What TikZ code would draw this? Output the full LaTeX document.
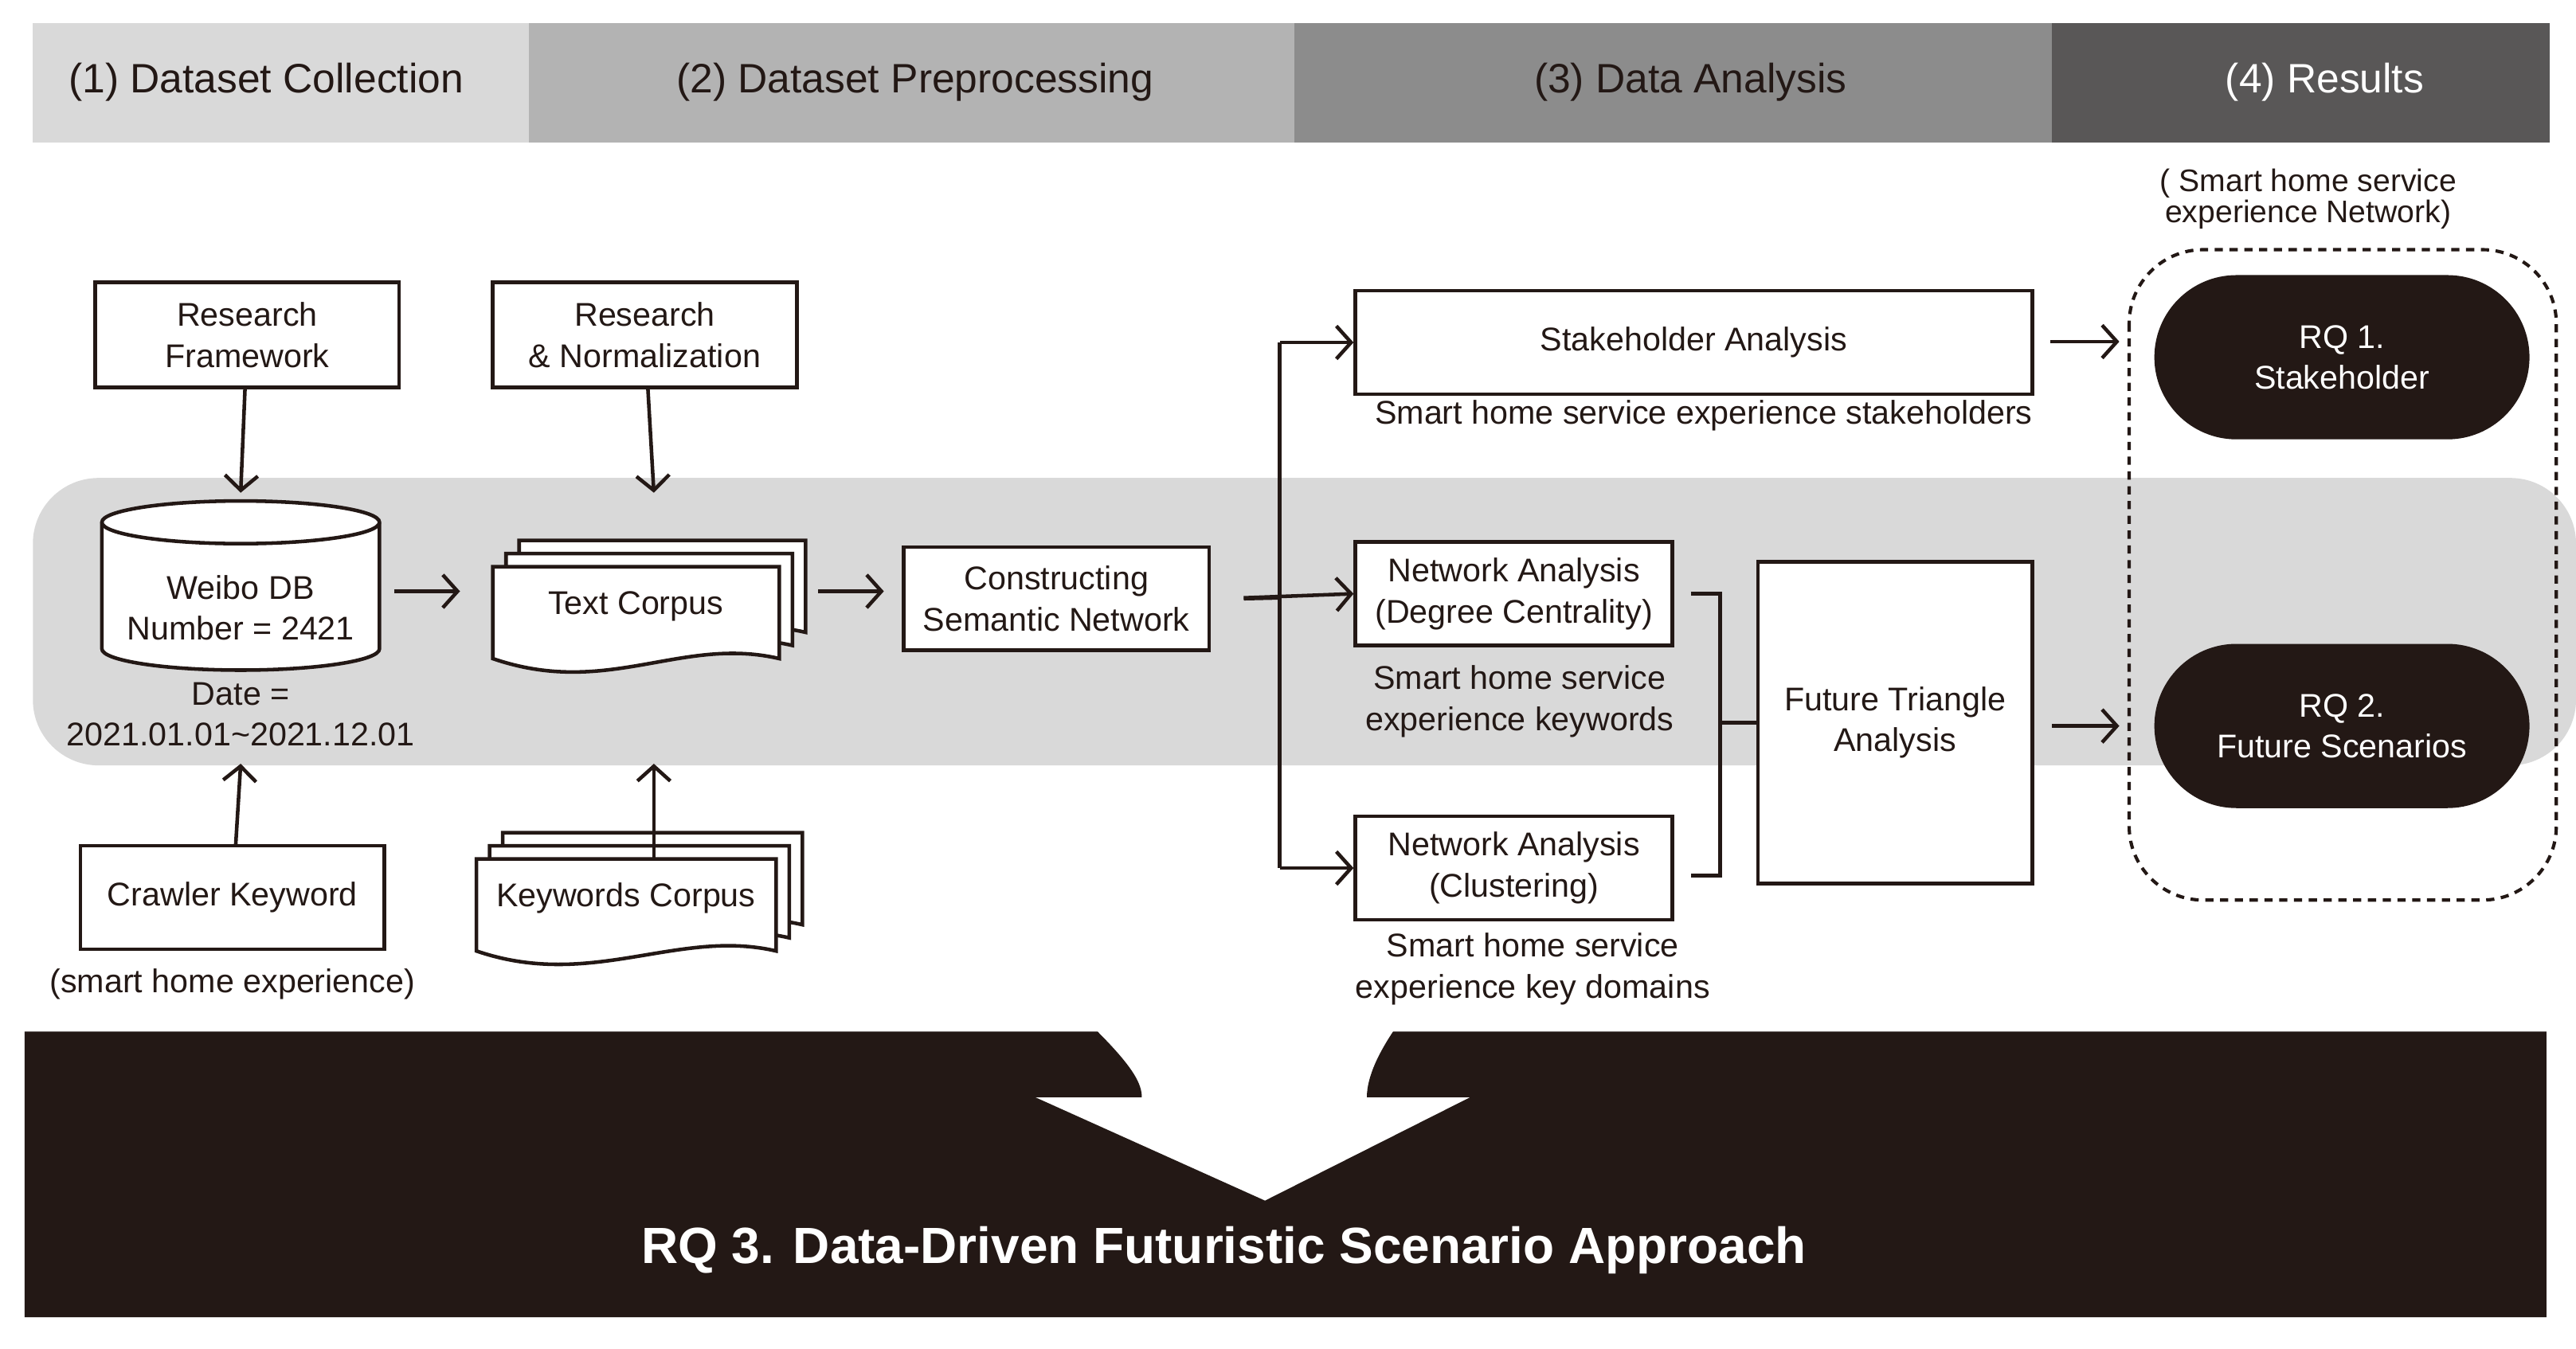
\documentclass[tikz,border=0pt]{standalone}
\usepackage{fontspec}
\setmainfont{Liberation Sans}
\usetikzlibrary{positioning, shapes, arrows.meta}
\definecolor{inkblack}{HTML}{231815}
\definecolor{barone}{HTML}{D9D9D9}
\definecolor{bartwo}{HTML}{B3B3B3}
\definecolor{barthree}{HTML}{8C8C8C}
\definecolor{barfour}{HTML}{595757}
\definecolor{bandgray}{HTML}{D9D9D9}
% stacked document shape around a named node
\newcommand{\docstack}[1]{%
  \foreach \d in {16,8,0}{
    \draw[inkblack, line width=2.2pt, fill=white]
      ([xshift=\d pt, yshift=\d pt]#1.north west) -- ([xshift=\d pt, yshift=\d pt]#1.north east)
      -- ([xshift=\d pt, yshift=\d pt-56pt]#1.north east)
      .. controls ([xshift=\d pt-60pt, yshift=\d pt-42pt]#1.north east) and ([xshift=\d pt+70pt, yshift=\d pt-80pt]#1.north west) ..
      ([xshift=\d pt, yshift=\d pt-56pt]#1.north west) -- cycle;
  }}
\begin{document}
\begin{tikzpicture}[x=1pt, y=-1pt,
    every node/.style={align=center, font=\fontsize{20}{25}\selectfont, text=inkblack},
    box/.style={draw=inkblack, line width=2.2pt, fill=white, inner sep=0pt},
    pill/.style={rounded rectangle, fill=inkblack, text=white, minimum width=235pt, minimum height=100pt},
    label/.style={inner sep=0pt},
    head/.style={font=\fontsize{25}{30}\selectfont, inner sep=0pt},
    arrow/.style={draw=inkblack, line width=2.2pt, -{Straight Barb[length=9pt, width=20pt, line width=2.2pt]}},
    link/.style={draw=inkblack, line width=2.2pt}
  ]
  \useasboundingbox (0,0) rectangle (1568,821);

  % Phase bars
  \fill[barone] (20,14) rectangle (322,87);
  \fill[bartwo] (322,14) rectangle (788,87);
  \fill[barthree] (788,14) rectangle (1249,87);
  \fill[barfour] (1249,14) rectangle (1552,87);
  \node[head] (phaseone) at (162,50) {(1) Dataset Collection};
  \node[head] (phasetwo) at (557,50) {(2) Dataset Preprocessing};
  \node[head] (phasethree) at (1029,50) {(3) Data Analysis};
  \node[head, text=white] (phasefour) at (1415,50) {(4) Results};

  % Gray band
  \fill[bandgray, rounded corners=40pt] (20,291) rectangle (1568,466);

  % Collection
  \node[box, minimum width=185pt, minimum height=64pt] (framework) at (150.5,204) {Research\\Framework};
  \draw[inkblack, line width=2.2pt, fill=white]
    (62,318) -- (62,395) arc[start angle=180, end angle=360, x radius=84.5pt, y radius=13pt]
    -- (231,318) arc[start angle=0, end angle=180, x radius=84.5pt, y radius=13pt] -- cycle;
  \draw[inkblack, line width=2.2pt] (62,318) arc[start angle=180, end angle=360, x radius=84.5pt, y radius=13pt];
  \node[label] (weibo) at (146.5,370) {Weibo DB\\Number = 2421};
  \node[label] (date) at (146.5,435) {Date =\\2021.01.01\textasciitilde 2021.12.01};
  \node[box, minimum width=185pt, minimum height=63pt] (crawler) at (141.5,546.5) {Crawler Keyword};
  \node[label] (crawlnote) at (141.5,599) {(smart home experience)};
  \coordinate (dbtop) at (146.5,300);
  \coordinate (dbbottom) at (146.5,465);

  % Preprocessing
  \node[box, minimum width=185pt, minimum height=64pt] (normal) at (392.5,204) {Research\\\& Normalization};
  \node[inner sep=0pt, minimum width=174pt, minimum height=70pt, anchor=north west] (textcorp) at (300,345) {};
  \docstack{textcorp}
  \node[label] at (387,369) {Text Corpus};
  \node[inner sep=0pt, minimum width=182pt, minimum height=70pt, anchor=north west] (keycorp) at (290,523) {};
  \docstack{keycorp}
  \node[label] at (381,547) {Keywords Corpus};
  \coordinate (textin) at (398,300);
  \coordinate (textup) at (398,465);
  \node[box, minimum width=186pt, minimum height=63pt] (semantic) at (643,364.5) {Constructing\\Semantic Network};

  % Analysis
  \node[box, minimum width=412pt, minimum height=63pt] (stake) at (1031,208.5) {Stakeholder Analysis};
  \node[label] (stakenote) at (1037,253) {Smart home service experience stakeholders};
  \node[box, minimum width=193pt, minimum height=63pt] (degree) at (921.5,361.5) {Network Analysis\\(Degree Centrality)};
  \node[label] (degreenote) at (925,427) {Smart home service\\experience keywords};
  \node[box, minimum width=193pt, minimum height=63pt] (cluster) at (921.5,528.5) {Network Analysis\\(Clustering)};
  \node[label] (clusternote) at (933,590) {Smart home service\\experience key domains};
  \node[box, minimum width=167pt, minimum height=196pt] (triangle) at (1153.5,440) {Future Triangle\\Analysis};
  \coordinate (fork) at (779,364);

  % Results
  \draw[inkblack, line width=2pt, dash pattern=on 5pt off 4pt, rounded corners=45pt] (1296,152) rectangle (1556,548);
  \node[label, font=\fontsize{19}{19}\selectfont] (netnote) at (1405,121) {( Smart home service\\experience Network)};
  \node[pill] (rqone) at (1425.5,217.5) {RQ 1.\\Stakeholder};
  \node[pill] (rqtwo) at (1425.5,442) {RQ 2.\\Future Scenarios};

  % Arrows
  \draw[arrow] (framework) -- (dbtop);
  \draw[arrow] (crawler) -- (dbbottom);
  \draw[arrow] (normal) -- (textin);
  \draw[arrow] (keycorp.north -| textup) -- (textup);
  \draw[arrow] (240,360) -- (280,360);
  \draw[arrow] (498,360) -- (538,360);
  \draw[link] (semantic.east) ++(20,0) -- (fork);
  \draw[arrow] (757,364) -- (degree.west);
  \draw[arrow] (fork |- stake.west) -- (stake.west);
  \draw[arrow] (fork |- cluster.west) -- (cluster.west);
  \draw[link] (fork |- stake.west) -- (fork |- cluster.west);
  \draw[link] ([xshift=10pt]degree.east) -| (1047,533) -- ([xshift=10pt]cluster.east |- 0,533);
  \draw[link] (1047,440) -- (triangle.west);
  \draw[arrow] (1248,208) -- (1290,208);
  \draw[arrow] (triangle.east |- rqtwo) ++(11,0) -- (1290,442);

  % RQ 3 banner
  \fill[inkblack] (15,628) -- (668,628) .. controls (690,650) and (695,660) .. (695,668)
    -- (630,668) -- (770,731) -- (895,668) -- (832,668) .. controls (832,655) and (840,640) .. (848,628)
    -- (1550,628) -- (1550,802) -- (15,802) -- cycle;
  \node[text=white, font=\bfseries\fontsize{31}{36}\selectfont] (rqthree) at (745,761) {RQ 3. Data-Driven Futuristic Scenario Approach};
\end{tikzpicture}
\end{document}
